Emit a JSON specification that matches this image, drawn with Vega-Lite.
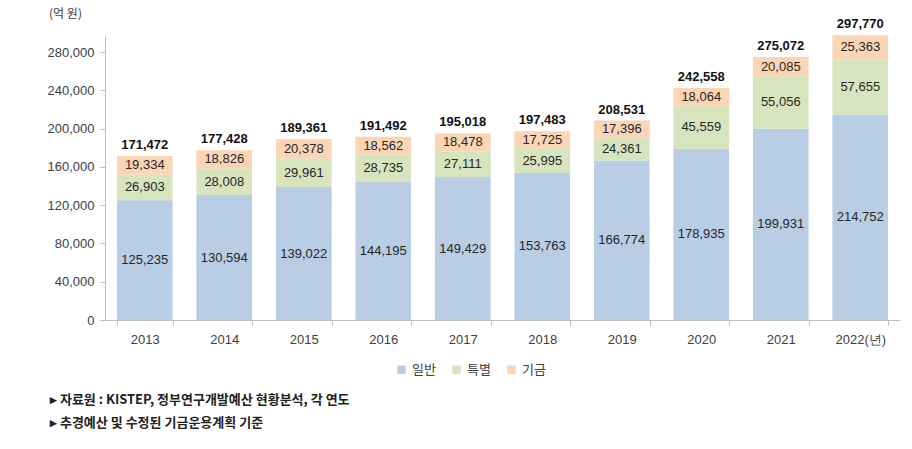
{
  "$schema": "https://vega.github.io/schema/vega-lite/v6.json",
  "width": 795,
  "height": 285,
  "autosize": {"type": "none"},
  "padding": {"left": 105, "top": 35, "right": 12, "bottom": 129},
  "background": "white",
  "config": {
    "view": {"stroke": null},
    "font": "Noto Sans CJK KR",
    "axis": {"labelFont": "Liberation Sans", "labelFontSize": 13, "labelColor": "#404040", "domainColor": "#bfbfbf", "tickColor": "#bfbfbf"}
  },
  "title": {
    "text": ["▸ 자료원 : KISTEP, 정부연구개발예산 현황분석, 각 연도", "▸ 추경예산 및 수정된 기금운용계획 기준"],
    "orient": "bottom",
    "anchor": "start",
    "frame": "group",
    "dx": -55,
    "offset": 17,
    "font": "Noto Sans CJK KR",
    "fontSize": 13,
    "fontWeight": "bold",
    "color": "#222222",
    "lineHeight": 23
  },
  "data": {
    "values": [
      {"year": "2013", "type": "일반", "value": 125235},
      {"year": "2013", "type": "특별", "value": 26903},
      {"year": "2013", "type": "기금", "value": 19334},
      {"year": "2014", "type": "일반", "value": 130594},
      {"year": "2014", "type": "특별", "value": 28008},
      {"year": "2014", "type": "기금", "value": 18826},
      {"year": "2015", "type": "일반", "value": 139022},
      {"year": "2015", "type": "특별", "value": 29961},
      {"year": "2015", "type": "기금", "value": 20378},
      {"year": "2016", "type": "일반", "value": 144195},
      {"year": "2016", "type": "특별", "value": 28735},
      {"year": "2016", "type": "기금", "value": 18562},
      {"year": "2017", "type": "일반", "value": 149429},
      {"year": "2017", "type": "특별", "value": 27111},
      {"year": "2017", "type": "기금", "value": 18478},
      {"year": "2018", "type": "일반", "value": 153763},
      {"year": "2018", "type": "특별", "value": 25995},
      {"year": "2018", "type": "기금", "value": 17725},
      {"year": "2019", "type": "일반", "value": 166774},
      {"year": "2019", "type": "특별", "value": 24361},
      {"year": "2019", "type": "기금", "value": 17396},
      {"year": "2020", "type": "일반", "value": 178935},
      {"year": "2020", "type": "특별", "value": 45559},
      {"year": "2020", "type": "기금", "value": 18064},
      {"year": "2021", "type": "일반", "value": 199931},
      {"year": "2021", "type": "특별", "value": 55056},
      {"year": "2021", "type": "기금", "value": 20085},
      {"year": "2022", "type": "일반", "value": 214752},
      {"year": "2022", "type": "특별", "value": 57655},
      {"year": "2022", "type": "기금", "value": 25363}
    ]
  },
  "transform": [
    {"calculate": "indexof(['일반','특별','기금'], datum.type)", "as": "k"}
  ],
  "encoding": {
    "x": {
      "field": "year", "type": "ordinal",
      "scale": {"paddingInner": 0.3, "paddingOuter": 0.15},
      "axis": {"title": null, "labelAngle": 0, "ticks": true, "tickBand": "extent", "tickSize": 5, "labelPadding": 8,
               "labelExpr": "datum.value == '2022' ? '2022(년)' : datum.value"}
    }
  },
  "layer": [
    {
      "mark": {"type": "bar"},
      "encoding": {
        "y": {
          "field": "value", "type": "quantitative", "aggregate": "sum",
          "scale": {"domain": [0, 298000], "nice": false},
          "axis": {"title": "(억 원)", "titleAngle": 0, "titleX": -40, "titleY": -22, "titleAlign": "center", "titleBaseline": "middle",
                   "titleFont": "Noto Sans CJK KR", "titleFontSize": 12, "titleFontWeight": "normal", "titleColor": "#404040",
                   "values": [0, 40000, 80000, 120000, 160000, 200000, 240000, 280000], "grid": false, "tickSize": 5, "labelPadding": 6,
                   "labelExpr": "format(datum.value, ',')"}
        },
        "color": {
          "field": "type", "type": "nominal",
          "scale": {"domain": ["일반", "특별", "기금"], "range": ["#b9cde5", "#d7e4bd", "#fcd5b5"]},
          "legend": {"title": null, "orient": "none", "direction": "horizontal", "legendX": 290, "legendY": 328,
                     "symbolType": "square", "symbolSize": 70, "labelFont": "Noto Sans CJK KR", "labelFontSize": 13,
                     "labelColor": "#404040", "columnPadding": 14, "symbolStrokeWidth": 0}
        },
        "order": {"field": "k", "type": "quantitative"}
      }
    },
    {
      "transform": [
        {"stack": "value", "groupby": ["year"], "sort": [{"field": "k"}], "as": ["v0", "v1"]},
        {"calculate": "(datum.v0 + datum.v1) / 2", "as": "mid"}
      ],
      "mark": {"type": "text", "font": "Liberation Sans", "fontSize": 13, "color": "#262626", "baseline": "middle"},
      "encoding": {
        "y": {"field": "mid", "type": "quantitative"},
        "text": {"field": "value", "type": "quantitative", "format": ","}
      }
    },
    {
      "transform": [
        {"aggregate": [{"op": "sum", "field": "value", "as": "total"}], "groupby": ["year"]}
      ],
      "mark": {"type": "text", "font": "Liberation Sans", "fontSize": 13, "fontWeight": "bold", "color": "#111111", "baseline": "bottom", "dy": -4},
      "encoding": {
        "y": {"field": "total", "type": "quantitative"},
        "text": {"field": "total", "type": "quantitative", "format": ","}
      }
    }
  ]
}
